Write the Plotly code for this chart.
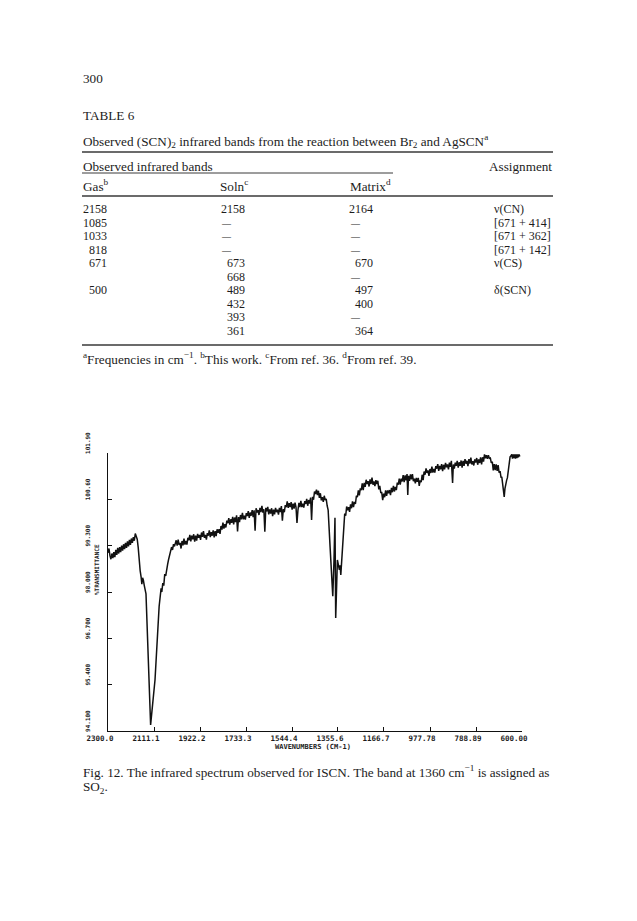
import plotly.graph_objects as go

# ---------------- spectrum data ----------------
WAVENUMBER = [
    2300, 2296, 2292, 2288, 2284, 2280, 2276, 2272, 2268, 2264, 2260, 2256, 2252, 2248, 2244, 2240,
    2236, 2232, 2228, 2224, 2220, 2216, 2212, 2208, 2204, 2200, 2196, 2192, 2188, 2184, 2180,
    2176, 2172, 2168, 2164, 2161, 2158, 2155, 2151, 2147, 2144, 2125, 2107, 2090, 2085, 2082,
    2079, 2075, 2071, 2067, 2063, 2059, 2055, 2051, 2047, 2043, 2039, 2035, 2031, 2027, 2023,
    2020, 2016, 2012, 2008, 2004, 2000, 1996, 1992, 1988, 1984, 1980, 1976, 1972, 1968, 1964,
    1960, 1956, 1952, 1948, 1944, 1940, 1936, 1932, 1928, 1924, 1920, 1916, 1912, 1908, 1904,
    1900, 1896, 1892, 1888, 1884, 1880, 1876, 1872, 1868, 1864, 1860, 1856, 1852, 1848, 1844,
    1840, 1836, 1832, 1828, 1824, 1820, 1816, 1812, 1808, 1804, 1800, 1796, 1792, 1788, 1784,
    1780, 1776, 1772, 1768, 1764, 1760, 1756, 1752, 1748, 1744, 1740, 1736, 1732, 1728, 1724,
    1720, 1716, 1712, 1708, 1704, 1700, 1696, 1692, 1688, 1684, 1680, 1676, 1672, 1668, 1664,
    1660, 1656, 1652, 1648, 1644, 1640, 1636, 1632, 1628, 1624, 1620, 1616, 1612, 1608, 1604,
    1600, 1596, 1592, 1588, 1584, 1580, 1576, 1572, 1568, 1564, 1560, 1556, 1552, 1548, 1544,
    1540, 1536, 1532, 1528, 1524, 1520, 1516, 1512, 1508, 1504, 1500, 1496, 1492, 1488, 1484,
    1480, 1476, 1472, 1468, 1464, 1460, 1456, 1452, 1448, 1444, 1440, 1436, 1432, 1428, 1424,
    1420, 1416, 1412, 1408, 1404, 1400, 1396,
    1388, 1385, 1377, 1372, 1368, 1365, 1358, 1350, 1347, 1344, 1336, 1330,
    1328, 1324, 1320, 1316, 1312, 1308, 1304, 1300, 1296, 1292, 1288, 1284, 1280, 1276, 1272,
    1268, 1264, 1260, 1256, 1252, 1248, 1244, 1240, 1236, 1232, 1228, 1224, 1220, 1216, 1212,
    1208, 1204, 1200, 1196, 1192, 1188, 1184, 1180, 1176, 1172, 1168, 1164, 1160, 1156, 1152,
    1148, 1144, 1140, 1136, 1132, 1128, 1124, 1120, 1116, 1112, 1108, 1104, 1100, 1096, 1092,
    1088, 1084, 1080, 1076, 1072, 1069, 1066, 1062, 1058, 1054, 1050, 1046, 1042, 1038, 1034,
    1030, 1026, 1022, 1018, 1014, 1010, 1006, 1002, 998, 994, 990, 986, 982, 978, 974,
    970, 966, 962, 958, 954, 950, 946, 942, 938, 934, 930, 926, 922, 918, 914,
    910, 906, 902, 898, 894, 890, 885, 882, 878, 874, 870, 866, 862, 858, 854,
    850, 846, 842, 838, 834, 830, 826, 822, 818, 814, 810, 806, 802, 798, 794,
    790, 786, 782, 778, 774, 770, 766, 762, 758, 754, 750, 746, 742, 738, 734,
    730, 726, 722, 718, 714, 710, 706, 702, 698, 694, 690, 686, 683, 680, 677,
    673, 670, 667, 663, 660, 657, 653, 649, 645, 642, 639, 636, 633, 630, 627,
    624, 621, 618, 615, 612, 609,
]
TRANSMITTANCE = [
    99.10, 99.22, 99.02, 98.92, 99.08, 98.95, 99.12, 98.98, 99.18, 99.04, 99.24, 99.08, 99.26, 99.12, 99.30, 99.16,
    99.34, 99.20, 99.38, 99.24, 99.42, 99.28, 99.46, 99.32, 99.50, 99.38, 99.54, 99.44, 99.64, 99.56, 99.48,
    99.25, 98.85, 98.60, 98.42, 98.22, 98.40, 98.34, 98.18, 98.02, 97.95, 94.27, 95.53, 97.60, 97.90, 98.10,
    98.00, 98.25, 98.18, 98.50, 98.45, 98.70, 98.78, 98.92, 99.02, 99.12, 99.26, 99.18, 99.34, 99.28, 99.42,
    99.45, 99.30, 99.47, 99.32, 99.38, 99.22, 99.43, 99.31, 99.50, 99.33, 99.43, 99.33, 99.52, 99.45, 99.60,
    99.42, 99.58, 99.48, 99.62, 99.41, 99.58, 99.44, 99.63, 99.52, 99.60, 99.46, 99.67, 99.55, 99.71, 99.52,
    99.60, 99.47, 99.65, 99.58, 99.73, 99.54, 99.68, 99.58, 99.73, 99.53, 99.71, 99.57, 99.76, 99.66, 99.76,
    99.63, 99.85, 99.75, 99.95, 99.78, 99.90, 99.81, 100.00, 99.93, 100.07, 99.89, 100.04, 99.94, 100.11, 99.90,
    100.09, 99.96, 100.15, 99.70, 100.10, 99.96, 100.16, 100.04, 100.22, 100.04, 100.14, 100.03, 100.21, 100.13, 100.27,
    100.08, 100.23, 100.14, 100.30, 100.10, 100.29, 99.72, 100.35, 100.23, 100.30, 100.16, 100.36, 100.24, 100.42, 100.23,
    100.32, 99.69, 100.36, 100.26, 100.39, 100.18, 100.32, 100.20, 100.35, 100.13, 100.31, 100.18, 100.36, 100.24, 100.31,
    100.17, 100.36, 100.24, 100.41, 100.00, 100.33, 100.24, 100.44, 100.38, 100.54, 100.36, 100.49, 100.38, 100.52, 100.31,
    100.48, 100.34, 100.51, 100.38, 99.94, 100.30, 100.50, 100.38, 100.56, 100.38, 100.48, 100.37, 100.55, 100.47, 100.61,
    100.42, 100.58, 100.48, 100.65, 100.02, 100.67, 100.59, 100.82, 100.75, 100.87, 100.72, 100.84, 100.64, 100.77, 100.57,
    100.66, 100.53, 100.70, 100.58, 100.61, 100.42, 100.30,
    99.26, 98.90, 97.88, 98.90, 100.08, 97.27, 98.90, 98.62, 98.75, 98.48, 99.37, 100.10,
    100.20, 100.14, 100.40, 100.29, 100.38, 100.25, 100.46, 100.35, 100.54, 100.38, 100.53, 100.47, 100.70, 100.66, 100.85,
    100.71, 100.91, 100.86, 101.05, 100.86, 101.06, 100.95, 101.15, 101.03, 101.11, 100.96, 101.16, 101.03, 101.21, 101.01,
    101.10, 100.97, 101.14, 101.03, 101.12, 100.88, 100.98, 100.79, 100.79, 100.58, 100.76, 100.66, 100.85, 100.70, 100.85,
    100.77, 100.86, 100.72, 100.92, 100.80, 100.98, 100.82, 100.95, 100.86, 101.07, 101.01, 101.18, 101.01, 101.18, 101.10,
    101.28, 101.08, 101.27, 101.13, 101.31, 100.72, 101.26, 101.12, 101.30, 101.16, 101.31, 101.11, 101.18, 101.05, 101.20,
    101.09, 101.20, 100.98, 101.13, 101.08, 101.29, 101.14, 101.38, 101.29, 101.47, 101.34, 101.41, 101.26, 101.45, 101.34,
    101.52, 101.35, 101.45, 101.35, 101.53, 101.46, 101.59, 101.40, 101.54, 101.44, 101.59, 101.39, 101.57, 101.44, 101.62,
    101.50, 101.58, 101.44, 101.63, 101.51, 101.68, 101.06, 101.58, 101.46, 101.63, 101.54, 101.68, 101.49, 101.64, 101.54,
    101.69, 101.49, 101.68, 101.54, 101.73, 101.60, 101.68, 101.53, 101.73, 101.60, 101.77, 101.58, 101.67, 101.55, 101.72,
    101.63, 101.76, 101.57, 101.72, 101.62, 101.78, 101.58, 101.78, 101.66, 101.86, 101.75, 101.84, 101.74, 101.84, 101.75,
    101.76, 101.62, 101.66, 101.41, 101.59, 101.42, 101.58, 101.40, 101.56, 101.35, 101.39, 101.21, 101.23, 101.06, 100.90,
    100.67, 100.90, 101.05, 101.14, 101.20, 101.40, 101.60, 101.79, 101.82, 101.86, 101.74, 101.86, 101.76, 101.86, 101.74,
    101.86, 101.76, 101.86, 101.78, 101.86, 101.80,
]

X_TICKS = [2300.0, 2111.1, 1922.2, 1733.3, 1544.4, 1355.6, 1166.7, 977.78, 788.89, 600.00]
X_TICK_TEXT = ["2300.0", "2111.1", "1922.2", "1733.3", "1544.4", "1355.6", "1166.7", "977.78", "788.89", "600.00"]
Y_TICKS = [94.1, 95.4, 96.7, 98.0, 99.3, 100.6, 101.9]
Y_TICK_TEXT = ["94.100", "95.400", "96.700", "98.000", "99.300", "100.60", "101.90"]

# ---------------- table data ----------------
TABLE_GAS = ["2158", "1085", "1033", "818", "671", "", "500", "", "", ""]
TABLE_SOLN = ["2158", "—", "—", "—", "673", "668", "489", "432", "393", "361"]
TABLE_MATRIX = ["2164", "—", "—", "—", "670", "—", "497", "400", "—", "364"]
TABLE_ASSIGN = ["ν(CN)", "[671 + 414]", "[671 + 362]", "[671 + 142]", "ν(CS)", "", "δ(SCN)", "", "", ""]

# ---------------- layout geometry (page pixels) ----------------
W, H = 637, 921
BODY = 8                      # default page margin of the html body
PL, PR, PT, PB = 108, 522, 453, 731


def fx(x):
    return (x - PL) / (PR - PL)


def fy(y):
    return (PB - y) / (PB - PT)


INK = "#1c1c1c"
SERIF = "Liberation Serif"
MONO = "DejaVu Sans Mono"
FS = 13.2
FS_ROW = 12

fig = go.Figure()
fig.add_trace(go.Scatter(x=WAVENUMBER, y=TRANSMITTANCE, mode="lines",
                         line=dict(color="#111111", width=1.5), hoverinfo="skip"))

ann = []


def txt(x, y, s, anchor="left", size=FS, font=SERIF, angle=0, bold=False):
    ann.append(dict(x=fx(x), y=fy(y), xref="paper", yref="paper", text=s, showarrow=False,
                    xanchor=anchor, yanchor="middle", textangle=angle, borderpad=0,
                    font=dict(family=font, size=size, color=INK, weight="bold" if bold else "normal")))


LX = 82
txt(LX, 78, "300")
txt(LX, 115, "TABLE 6")
txt(LX, 141, "Observed (SCN)<sub>2</sub> infrared bands from the reaction between Br<sub>2</sub> and AgSCN<sup>a</sup>")
txt(LX, 166, "Observed infrared bands")
txt(553, 166, "Assignment", anchor="right")
txt(LX, 185, "Gas<sup>b</sup>")
txt(219, 185, "Soln<sup>c</sup>")
txt(349, 185, "Matrix<sup>d</sup>")

for i in range(len(TABLE_GAS)):
    yy = 209 + 13.5 * i
    if TABLE_GAS[i]:
        txt(108, yy, TABLE_GAS[i], anchor="right", size=FS_ROW)
    for col, right, left in ((TABLE_SOLN, 246, 220), (TABLE_MATRIX, 374, 349)):
        v = col[i]
        if v == "—":
            txt(left, yy, "—", size=9)
        elif v:
            txt(right, yy, v, anchor="right", size=FS_ROW)
    if TABLE_ASSIGN[i]:
        txt(493, yy, TABLE_ASSIGN[i], size=FS_ROW)

txt(LX, 358, "<sup>a</sup>Frequencies in cm<sup>−1</sup>. <sup>b</sup>This work. <sup>c</sup>From ref. 36. <sup>d</sup>From ref. 39.")
txt(LX, 771, "Fig. 12. The infrared spectrum observed for ISCN. The band at 1360 cm<sup>−1</sup> is assigned as")
txt(LX, 787, "SO<sub>2</sub>.")

# axis titles
txt(313, 747, "WAVENUMBERS (CM-1)", anchor="center", size=7, font=MONO, bold=True)
ann.append(dict(x=fx(96), y=fy(570), xref="paper", yref="paper", text="%TRANSMITTANCE", showarrow=False,
                xanchor="center", yanchor="middle", textangle=-90, borderpad=0,
                font=dict(family=MONO, size=6, color=INK, weight="bold")))

shapes = []


def rule(y, x0=LX, x1=553, w=1.4):
    shapes.append(dict(type="line", xref="paper", yref="paper", x0=fx(x0), x1=fx(x1), y0=fy(y), y1=fy(y),
                       line=dict(color="#3a3a3a", width=w)))


rule(152)
rule(173, x1=393, w=1.0)
rule(196)
rule(345)

fig.update_layout(
    width=W - BODY, height=H - BODY, autosize=False,
    margin=dict(l=PL - BODY, r=W - PR, t=PT - BODY, b=H - PB, pad=0),
    paper_bgcolor="white", plot_bgcolor="white", showlegend=False,
    annotations=ann, shapes=shapes,
    xaxis=dict(range=[2300, 600], tickvals=X_TICKS, ticktext=X_TICK_TEXT, showgrid=False, zeroline=False,
               showline=True, linecolor="#111111", linewidth=1.2, ticks="inside", ticklen=4, tickwidth=1.2,
               tickcolor="#111111", ticklabelshift=8,
               tickfont=dict(family=MONO, size=7.5, color=INK, weight="bold")),
    yaxis=dict(range=[94.1, 101.9], tickvals=Y_TICKS, ticktext=Y_TICK_TEXT, showgrid=False, zeroline=False,
               showline=True, linecolor="#111111", linewidth=1.2, ticks="inside", ticklen=4, tickwidth=1.2,
               tickcolor="#111111", tickangle=-90, ticklabelshift=-9, ticklabelstandoff=15,
               tickfont=dict(family=MONO, size=6, color=INK, weight="bold")),
)

fig.write_html("out.html")
